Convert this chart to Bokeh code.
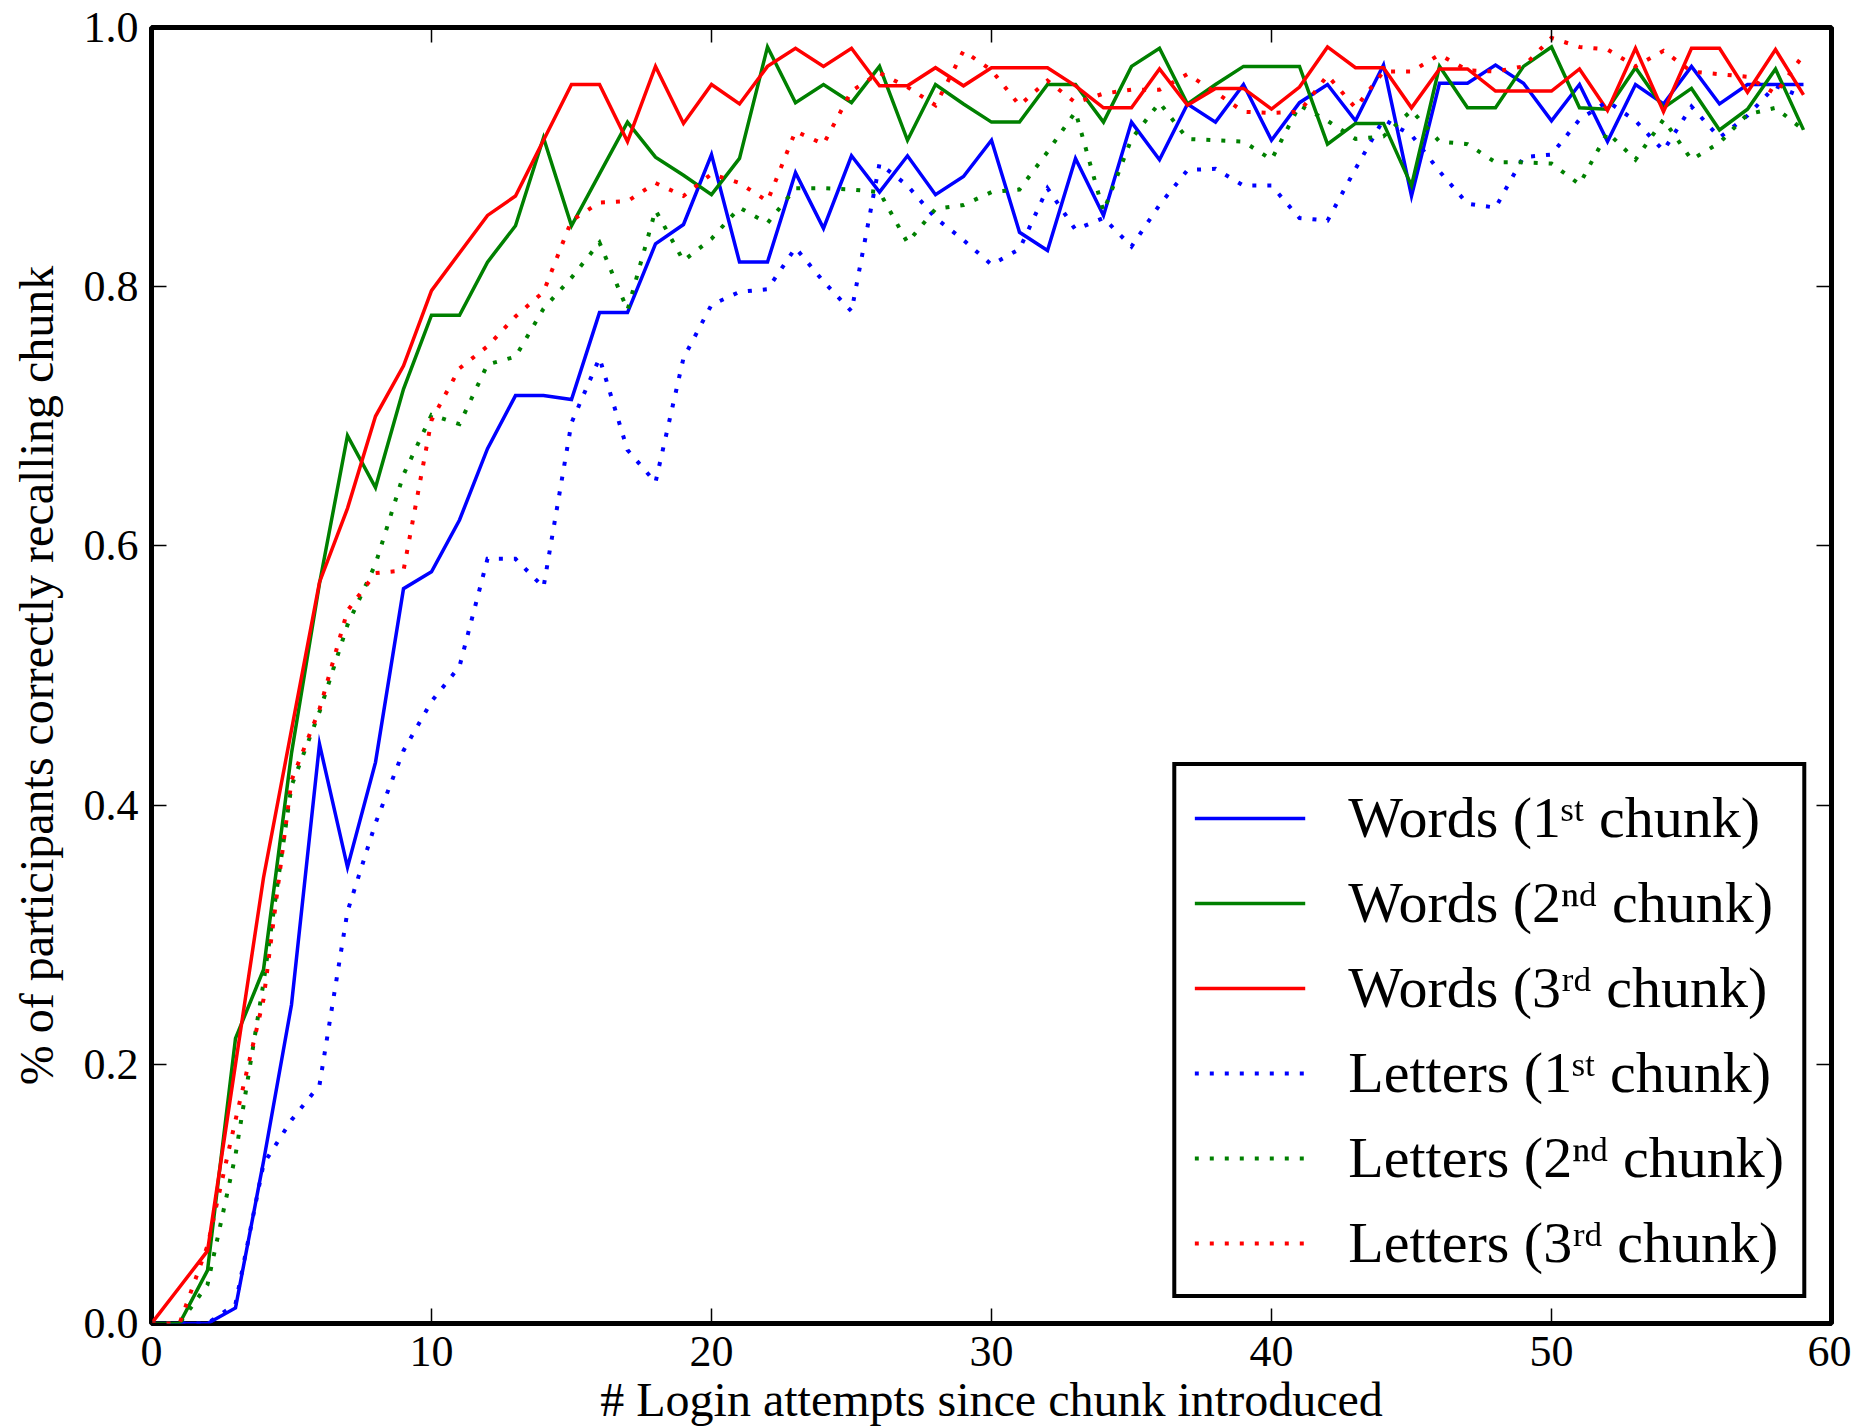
from bokeh.plotting import figure
from bokeh.models import (LinearAxis, Legend, LegendItem, Range1d, FixedTicker,
                          PrintfTickFormatter, ColumnDataSource)
from bokeh.embed import file_html
from bokeh.resources import INLINE

# ---------------- data ----------------
attempts = list(range(60))

words_1st = [0.0, 0.0, 0.0, 0.012, 0.125, 0.246, 0.447, 0.352, 0.433, 0.567,
             0.580, 0.620, 0.675, 0.716, 0.716, 0.713, 0.780, 0.780, 0.833, 0.848,
             0.902, 0.819, 0.819, 0.888, 0.845, 0.901, 0.873, 0.901, 0.871, 0.885,
             0.913, 0.842, 0.828, 0.899, 0.855, 0.927, 0.898, 0.941, 0.927, 0.956,
             0.913, 0.942, 0.956, 0.928, 0.971, 0.870, 0.957, 0.957, 0.971, 0.957,
             0.928, 0.956, 0.912, 0.956, 0.941, 0.970, 0.941, 0.956, 0.956, 0.956]

words_2nd = [0.0, 0.0, 0.041, 0.220, 0.273, 0.440, 0.571, 0.685, 0.645, 0.721,
             0.778, 0.778, 0.819, 0.847, 0.915, 0.847, 0.887, 0.927, 0.900, 0.886,
             0.871, 0.899, 0.985, 0.942, 0.956, 0.942, 0.970, 0.913, 0.956, 0.941,
             0.927, 0.927, 0.956, 0.956, 0.927, 0.970, 0.984, 0.941, 0.956, 0.970,
             0.970, 0.970, 0.910, 0.926, 0.926, 0.878, 0.970, 0.938, 0.938, 0.970,
             0.985, 0.938, 0.937, 0.969, 0.938, 0.953, 0.921, 0.937, 0.968, 0.921]

words_3rd = [0.0, 0.028, 0.056, 0.200, 0.344, 0.458, 0.572, 0.629, 0.700, 0.739,
             0.797, 0.826, 0.855, 0.870, 0.913, 0.956, 0.956, 0.912, 0.970, 0.926,
             0.956, 0.941, 0.970, 0.984, 0.970, 0.984, 0.955, 0.955, 0.969, 0.955,
             0.969, 0.969, 0.969, 0.955, 0.938, 0.938, 0.968, 0.940, 0.953, 0.953,
             0.937, 0.954, 0.985, 0.969, 0.969, 0.938, 0.968, 0.968, 0.951, 0.951,
             0.951, 0.968, 0.936, 0.984, 0.935, 0.984, 0.984, 0.950, 0.983, 0.948]

letters_1st = [0.0, 0.0, 0.0, 0.015, 0.123, 0.157, 0.184, 0.318, 0.386, 0.442,
               0.480, 0.507, 0.590, 0.590, 0.568, 0.695, 0.745, 0.674, 0.649, 0.745,
               0.786, 0.796, 0.798, 0.830, 0.804, 0.781, 0.895, 0.878, 0.853, 0.836,
               0.817, 0.829, 0.876, 0.844, 0.853, 0.831, 0.863, 0.890, 0.891, 0.878,
               0.878, 0.853, 0.851, 0.891, 0.929, 0.917, 0.889, 0.864, 0.861, 0.900,
               0.902, 0.929, 0.943, 0.928, 0.905, 0.939, 0.915, 0.932, 0.955, 0.946]

letters_2nd = [0.0, 0.0, 0.030, 0.130, 0.263, 0.415, 0.472, 0.539, 0.586, 0.655,
               0.701, 0.694, 0.740, 0.746, 0.783, 0.807, 0.834, 0.782, 0.859, 0.820,
               0.837, 0.861, 0.849, 0.876, 0.876, 0.875, 0.873, 0.834, 0.860, 0.863,
               0.873, 0.875, 0.904, 0.935, 0.858, 0.914, 0.942, 0.914, 0.913, 0.912,
               0.898, 0.940, 0.928, 0.914, 0.916, 0.936, 0.912, 0.910, 0.896, 0.896,
               0.895, 0.879, 0.919, 0.898, 0.929, 0.898, 0.911, 0.933, 0.938, 0.921]

letters_3rd = [0.0, 0.0, 0.060, 0.157, 0.250, 0.419, 0.474, 0.550, 0.579, 0.581,
               0.697, 0.737, 0.754, 0.777, 0.796, 0.851, 0.865, 0.866, 0.880, 0.870,
               0.887, 0.880, 0.866, 0.920, 0.910, 0.951, 0.965, 0.954, 0.940, 0.982,
               0.967, 0.940, 0.959, 0.942, 0.949, 0.952, 0.952, 0.964, 0.950, 0.935,
               0.934, 0.935, 0.963, 0.938, 0.966, 0.966, 0.979, 0.967, 0.966, 0.970,
               0.992, 0.985, 0.983, 0.970, 0.982, 0.966, 0.964, 0.962, 0.949, 0.979]

series_labels = ["Words (1\u02e2\u1d57 chunk)", "Words (2\u207f\u1d48 chunk)",
                 "Words (3\u02b3\u1d48 chunk)", "Letters (1\u02e2\u1d57 chunk)",
                 "Letters (2\u207f\u1d48 chunk)", "Letters (3\u02b3\u1d48 chunk)"]
x_ticks = [0, 10, 20, 30, 40, 50, 60]
y_ticks = [0.0, 0.2, 0.4, 0.6, 0.8, 1.0]
x_label = "# Login attempts since chunk introduced"
y_label = "% of participants correctly recalling chunk"

# ---------------- figure ----------------
SERIF = "Liberation Serif"
BLUE, GREEN, RED = "#0000ff", "#008000", "#ff0000"

p = figure(frame_width=1680, frame_height=1296,
           x_range=Range1d(0, 60), y_range=Range1d(0, 1.0),
           output_backend="svg", toolbar_location=None,
           min_border_left=151, min_border_top=27,
           min_border_right=20, min_border_bottom=100,
           background_fill_color="white", border_fill_color="white")
p.grid.visible = False
p.outline_line_color = "black"
p.outline_line_width = 5
p.outline_line_alpha = 1.0

def style_axis(ax, ticks, show_labels):
    ax.ticker = FixedTicker(ticks=ticks)
    ax.major_tick_in = 15
    ax.major_tick_out = 0
    ax.major_tick_line_width = 1.5
    ax.major_tick_line_color = "black"
    ax.minor_tick_line_color = None
    ax.axis_line_color = None
    if show_labels:
        ax.major_label_text_font = SERIF
        ax.major_label_text_font_size = "44px"
        ax.major_label_text_color = "black"
        ax.axis_label_text_font = SERIF
        ax.axis_label_text_font_style = "normal"
        ax.axis_label_text_color = "black"
    else:
        ax.major_label_text_font_size = "1px"
        ax.major_label_text_color = None
        ax.major_label_standoff = 0

style_axis(p.xaxis[0], x_ticks, True)
p.xaxis[0].formatter = PrintfTickFormatter(format="%d")
p.xaxis[0].axis_label = x_label
p.xaxis[0].axis_label_text_font_size = "48px"
p.xaxis[0].major_label_standoff = 13
p.xaxis[0].axis_label_standoff = 4

style_axis(p.yaxis[0], y_ticks, True)
p.yaxis[0].formatter = PrintfTickFormatter(format="%.1f")
p.yaxis[0].axis_label = y_label
p.yaxis[0].axis_label_text_font_size = "48px"
p.yaxis[0].major_label_standoff = 13
p.yaxis[0].axis_label_standoff = 18

top_axis = LinearAxis()
style_axis(top_axis, x_ticks, False)
p.add_layout(top_axis, "above")
right_axis = LinearAxis()
style_axis(right_axis, y_ticks, False)
p.add_layout(right_axis, "right")

src = ColumnDataSource(dict(x=attempts, w1=words_1st, w2=words_2nd, w3=words_3rd,
                            l1=letters_1st, l2=letters_2nd, l3=letters_3rd))

specs = [("w1", BLUE, "solid", 3.5), ("w2", GREEN, "solid", 3.5), ("w3", RED, "solid", 3.5),
         ("l1", BLUE, "4 11", 4), ("l2", GREEN, "4 11", 4), ("l3", RED, "4 11", 4)]
items = []
for (col, color, dash, lw), lab in zip(specs, series_labels):
    r = p.line("x", col, source=src, line_color=color, line_width=lw,
               line_dash=dash, line_join="miter")
    items.append(LegendItem(label=lab, renderers=[r]))

legend = Legend(items=items, location="bottom_right")
legend.margin = 25
legend.padding = 18
legend.spacing = 18
legend.glyph_width = 111
legend.glyph_height = 56
legend.label_height = 56
legend.label_standoff = 43
legend.label_text_font = SERIF
legend.label_text_font_size = "58px"
legend.label_text_color = "black"
legend.border_line_color = "black"
legend.border_line_alpha = 1.0
legend.border_line_width = 4
legend.background_fill_color = "white"
legend.background_fill_alpha = 1.0
p.add_layout(legend)

open("out.html", "w").write(file_html(p, INLINE))
